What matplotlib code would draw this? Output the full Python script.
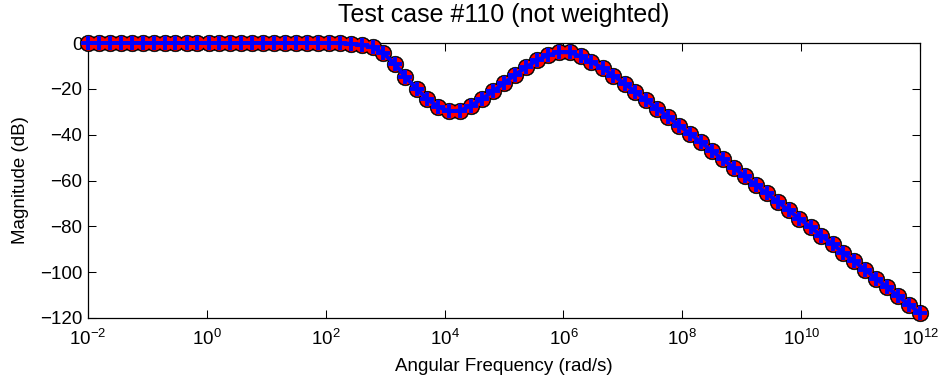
import matplotlib
matplotlib.use("Agg")
import matplotlib.pyplot as plt
import numpy as np

# log10 of angular frequency (rad/s) for each sample
log_freq = [-2.00, -1.82, -1.63, -1.45, -1.26, -1.08, -0.89, -0.71, -0.53, -0.34,
            -0.16, 0.03, 0.21, 0.39, 0.58, 0.76, 0.95, 1.13, 1.32, 1.50,
            1.68, 1.87, 2.05, 2.24, 2.42, 2.61, 2.79, 2.97, 3.16, 3.34,
            3.53, 3.71, 3.89, 4.08, 4.26, 4.45, 4.63, 4.82, 5.00, 5.18,
            5.37, 5.55, 5.74, 5.92, 6.11, 6.29, 6.47, 6.66, 6.84, 7.03,
            7.21, 7.39, 7.58, 7.76, 7.95, 8.13, 8.32, 8.50, 8.68, 8.87,
            9.05, 9.24, 9.42, 9.61, 9.79, 9.97, 10.16, 10.34, 10.53, 10.71,
            10.89, 11.08, 11.26, 11.45, 11.63, 11.82, 12.00]

# magnitude (dB)
mag_db = [0, 0, 0, 0, 0, 0, 0, 0, 0, 0,
          0, 0, 0, 0, 0, 0, 0, 0, 0, 0,
          0, 0, 0, -0.1, -0.3, -0.8, -1.8, -4.5, -9.0, -14.8,
          -20.0, -24.5, -27.8, -29.8, -29.5, -27.3, -24.4, -21.0, -17.5, -14.0,
          -10.6, -7.6, -5.3, -4.0, -4.1, -5.8, -8.2, -11.0, -14.2, -17.7,
          -21.3, -25.0, -28.6, -32.3, -36.0, -39.7, -43.4, -47.1, -50.8, -54.5,
          -58.2, -61.9, -65.6, -69.3, -73.0, -76.7, -80.4, -84.1, -87.8, -91.6,
          -95.3, -99.0, -102.8, -106.6, -110.4, -114.2, -118.0]

x_ticks = [1e-2, 1e0, 1e2, 1e4, 1e6, 1e8, 1e10, 1e12]
x_tick_labels = [r"$10^{-2}$", r"$10^{0}$", r"$10^{2}$", r"$10^{4}$",
                 r"$10^{6}$", r"$10^{8}$", r"$10^{10}$", r"$10^{12}$"]
y_ticks = [-120, -100, -80, -60, -40, -20, 0]

plt.rcParams["font.family"] = ["Liberation Sans", "DejaVu Sans"]
plt.rcParams["mathtext.fontset"] = "custom"
plt.rcParams["mathtext.rm"] = "Liberation Sans"
plt.rcParams["mathtext.it"] = "Liberation Sans"
plt.rcParams["mathtext.default"] = "regular"

freq = [10.0 ** v for v in log_freq]

fig = plt.figure(figsize=(9.4, 3.79), dpi=100)
ax = fig.add_axes([88 / 940, 1 - 318 / 379, 832 / 940, 275 / 379])

ax.plot(freq, mag_db, linestyle="none", marker="o", markersize=12,
        markerfacecolor="black", markeredgecolor="black", markeredgewidth=0.4,
        clip_on=False, zorder=3)
ax.plot(freq, mag_db, linestyle="none", marker="o", markersize=10.4,
        markerfacecolor="red", markeredgewidth=0, clip_on=False, zorder=4)
ax.plot(freq, mag_db, color="blue", linewidth=2.8, marker="+", markersize=10.2,
        markeredgewidth=2.8, markeredgecolor="blue", clip_on=False, zorder=5)

ax.set_xscale("log")
ax.set_xlim(1e-2, 1e12)
ax.set_ylim(-120, 0)
ax.set_xticks(x_ticks)
ax.set_xticklabels(x_tick_labels)
ax.set_yticks(y_ticks)
ax.minorticks_off()
ax.tick_params(direction="in", length=6, width=0.75, top=True, right=True,
               labelsize=13.5)
ax.tick_params(axis="x", pad=8)
ax.tick_params(axis="y", pad=4)
for s in ax.spines.values():
    s.set_linewidth(0.9)

ax.set_xlabel("Angular Frequency (rad/s)", fontsize=13.5, labelpad=6)
ax.set_ylabel("Magnitude (dB)", fontsize=13.5, labelpad=8)
ax.set_title("Test case #110 (not weighted)", fontsize=18, pad=15)

fig.savefig("out.png", dpi=100)
